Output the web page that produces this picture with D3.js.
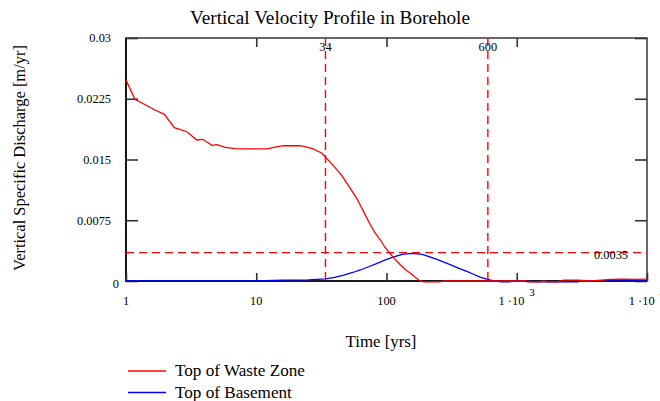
<!DOCTYPE html>
<html><head><meta charset="utf-8">
<script src="https://cdn.jsdelivr.net/npm/d3@7"></script>
<style>
body{margin:0;background:#fff;}
svg{display:block;}
text{font-family:"Liberation Serif","Times New Roman","DejaVu Serif",serif;}
</style></head>
<body>
<svg id="c" width="660" height="401"></svg>
<script>
const title = "Vertical Velocity Profile in Borehole";
const xLabel = "Time [yrs]";
const yLabel = "Vertical Specific Discharge [m/yr]";
const xTicks = [1, 10, 100, 1000, 10000];
const xTickLabels = ["1", "10", "100", "1 ·10^3", "1 ·10^4"];
const yTicks = [0, 0.0075, 0.015, 0.0225, 0.03];
const yTickLabels = ["0", "0.0075", "0.015", "0.0225", "0.03"];
const seriesNames = ["Top of Waste Zone", "Top of Basement"];
const markerTimes = [34, 600];
const markerLabels = ["34", "600"];
const thresholdValue = 0.0035;
const thresholdLabel = "0.0035";

// Top of Waste Zone [time, value]
const wasteTime = [1, 1.17, 1.67, 1.97, 2.35, 2.93, 3.5, 3.89, 4.56, 4.99, 5.78, 6.89, 7.98, 12.1, 13.6, 16.2, 21.8, 26.8, 32, 35, 37.1, 45, 52, 59.5, 67, 75.3, 82, 89.9, 97, 106, 116, 128, 140, 153, 165, 177, 193, 251, 284, 600, 1172, 1200, 1468, 1600, 1731, 2066, 2300, 2930, 3710, 5285, 6500, 8000, 10000];
const wasteValue = [0.0248, 0.02243, 0.02111, 0.02058, 0.01893, 0.01843, 0.01741, 0.01749, 0.01675, 0.01683, 0.0165, 0.01634, 0.0163, 0.0163, 0.0165, 0.0167, 0.0167, 0.01638, 0.01577, 0.01506, 0.01465, 0.0131, 0.0116, 0.01012, 0.0085, 0.00691, 0.0059, 0.00506, 0.0042, 0.00342, 0.0027, 0.00198, 0.0014, 0.00095, 0.0005, 0.00012, -0.0001, -0.0001, 0, 0, 0, -0.0001, -0.0001, 0, -0.0001, -0.0001, 0.0001, 0.0001, 0, 0.0002, 0.00022, 0.0002, 0.00022];

// Top of Basement [time, value]
const baseTime = [1, 10, 15.8, 25, 34, 40, 47, 55, 63, 73, 84.8, 97, 110.6, 132, 158, 188, 232, 270, 311, 360, 418, 470, 528, 631, 753, 868, 980, 1468, 2000, 2930, 3100, 5000, 10000];
const baseValue = [0, 0, 0.0001, 0.00015, 0.00025, 0.00045, 0.00074, 0.00105, 0.00136, 0.00176, 0.00218, 0.00258, 0.00292, 0.0033, 0.00342, 0.0033, 0.0028, 0.00238, 0.00198, 0.00155, 0.00115, 0.0008, 0.00046, 0.00012, -0.0001, -0.0001, 0, -0.0001, -0.0001, -0.0001, 0, 0, 0];

const FONT = "Liberation Serif, Times New Roman, DejaVu Serif, serif";
const svg = d3.select("#c");
const L = 126, R = 647, T = 38, B = 281;
const x = d3.scaleLog().domain([1, 10000]).range([L, R]);
const y = d3.scaleLinear().domain([0, 0.03]).range([B, T]);

// scale font so that a sample string reaches a target width
function fitSize(str, base, target) {
  const t = svg.append("text").attr("font-family", FONT).attr("font-size", base).text(str);
  const w = t.node().getComputedTextLength();
  t.remove();
  return w > 0 ? base * target / w : base;
}
const tickFs = fitSize("0.0225", 12, 34);
const supFs = tickFs * 0.9;

// frame
svg.append("rect").attr("x", L).attr("y", T).attr("width", R - L).attr("height", B - T)
  .attr("fill", "none").attr("stroke", "#444").attr("stroke-width", 1.6);
svg.append("path").attr("d", `M${L},${T}V${B}H${R}`).attr("fill", "none")
  .attr("stroke", "#000").attr("stroke-width", 1.6);

// title
svg.append("text").attr("x", 330).attr("y", 24).attr("text-anchor", "middle")
  .attr("font-family", FONT).attr("font-size", fitSize(title, 17, 280)).attr("fill", "#000").text(title);

// axes
const fmtY = d => yTickLabels[yTicks.indexOf(d)];
const gl = svg.append("g").attr("transform", `translate(${L},0)`)
  .call(d3.axisLeft(y).tickValues(yTicks).tickFormat(fmtY).tickSize(-12).tickPadding(15));
const gr = svg.append("g").attr("transform", `translate(${R},0)`)
  .call(d3.axisRight(y).tickValues(yTicks).tickFormat("").tickSize(-12));
const gb = svg.append("g").attr("transform", `translate(0,${B})`)
  .call(d3.axisBottom(x).tickValues(xTicks).tickFormat("").tickSize(-8).tickPadding(15));
const gt = svg.append("g").attr("transform", `translate(0,${T})`)
  .call(d3.axisTop(x).tickValues(xTicks.slice(1, -1)).tickFormat("").tickSize(-9));
[gl, gr, gb, gt].forEach(g => {
  g.attr("font-family", FONT);
  g.select(".domain").remove();
  g.selectAll(".tick line").attr("stroke", "#333").attr("stroke-width", 1.6);
  g.selectAll("text").attr("font-family", FONT).attr("font-size", tickFs).attr("fill", "#000");
});
gl.selectAll(".tick").filter(d => d === 0).select("text").attr("dx", 8).attr("dy", "0.55em");

// x tick labels with superscripts
xTicks.forEach((t, i) => {
  const parts = xTickLabels[i].split("^");
  const txt = svg.append("text").attr("x", x(t)).attr("y", 305).attr("text-anchor", "middle")
    .attr("font-family", FONT).attr("font-size", tickFs).attr("fill", "#000");
  txt.append("tspan").text(parts[0]);
  if (parts[1]) {
    txt.append("tspan").attr("dx", 5).attr("dy", -9).attr("font-size", supFs).text(parts[1]);
  }
});

// axis labels
svg.append("text").attr("x", 381).attr("y", 347).attr("text-anchor", "middle")
  .attr("font-family", FONT).attr("font-size", fitSize(xLabel, 15, 71)).attr("fill", "#000").text(xLabel);
svg.append("text").attr("transform", "translate(25,158) rotate(-90)").attr("text-anchor", "middle")
  .attr("font-family", FONT).attr("font-size", fitSize(yLabel, 15, 226)).attr("fill", "#000").text(yLabel);

// curves
const line = d3.line().x(d => x(d[0])).y(d => y(d[1]));
const wasteData = wasteTime.map((t, i) => [t, wasteValue[i]]);
const baseData = baseTime.map((t, i) => [t, baseValue[i]]);
svg.append("path").datum(baseData).attr("d", line).attr("fill", "none")
  .attr("stroke", "#0000ff").attr("stroke-width", 1.3);
svg.append("path").datum(wasteData).attr("d", line).attr("fill", "none")
  .attr("stroke", "#ff0000").attr("stroke-width", 1.3);

// markers
markerTimes.forEach((t, i) => {
  svg.append("line").attr("x1", x(t)).attr("x2", x(t)).attr("y1", T).attr("y2", B)
    .attr("stroke", "#ff0000").attr("stroke-width", 1.4).attr("stroke-dasharray", "8,5");
  svg.append("text").attr("x", x(t)).attr("y", 51).attr("text-anchor", "middle")
    .attr("font-family", FONT).attr("font-size", tickFs).attr("fill", "#000").text(markerLabels[i]);
});
svg.append("line").attr("x1", L).attr("x2", R).attr("y1", y(thresholdValue)).attr("y2", y(thresholdValue))
  .attr("stroke", "#ff0000").attr("stroke-width", 1.4).attr("stroke-dasharray", "8,5");
svg.append("text").attr("x", 611).attr("y", y(thresholdValue) + 6).attr("text-anchor", "middle")
  .attr("font-family", FONT).attr("font-size", tickFs).attr("fill", "#000").text(thresholdLabel);

// legend
const colors = ["#ff0000", "#0000ff"];
const legFs = fitSize(seriesNames[0], 15, 130);
seriesNames.forEach((n, i) => {
  const yy = 371 + i * 21.5;
  svg.append("line").attr("x1", 128).attr("x2", 166).attr("y1", yy).attr("y2", yy)
    .attr("stroke", colors[i]).attr("stroke-width", 1.3);
  svg.append("text").attr("x", 175).attr("y", yy + 5).attr("font-size", legFs)
    .attr("font-family", FONT).attr("fill", "#000").text(n);
});
</script>
</body></html>
